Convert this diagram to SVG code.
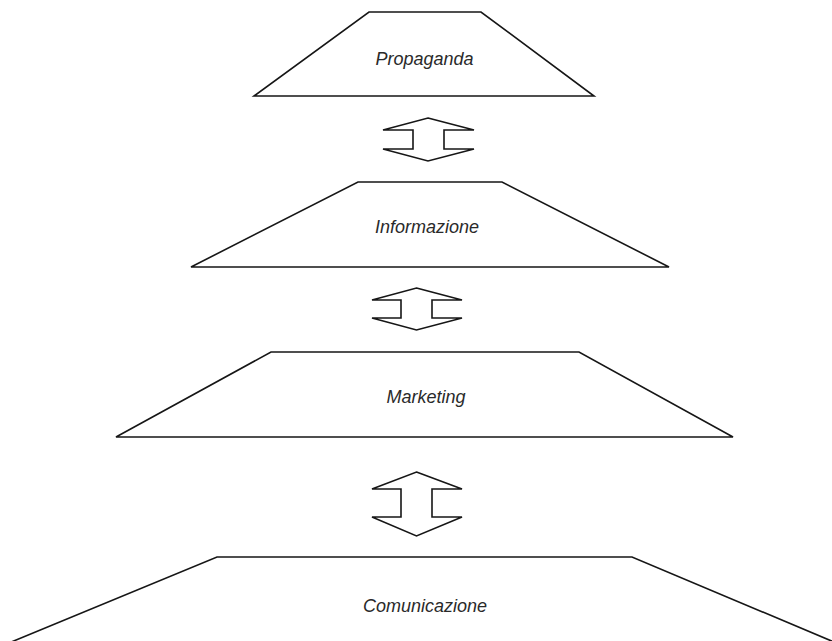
<svg xmlns="http://www.w3.org/2000/svg" width="832" height="641" viewBox="0 0 832 641">
  <style>
    .tier { fill: #ffffff; stroke: #161616; stroke-width: 1.6; stroke-linejoin: miter; }
    .link { fill: #ffffff; stroke: #161616; stroke-width: 1.6; stroke-linejoin: miter; }
    .label { font-family: "Liberation Sans", Arial, sans-serif; font-style: italic; font-size: 18px; fill: #2a2a2a; text-anchor: middle; }
  </style>
  <rect x="0" y="0" width="832" height="641" fill="#ffffff"/>

  <g id="connectors">
    <!-- double-headed block arrows between the tiers -->
    <path class="link" d="M428,118 L474,130 L444,130 L444,149 L474,149 L428,161 L383,149 L413,149 L413,130 L383,130 Z"/>
    <path class="link" d="M416.5,288 L462,300 L432,300 L432,318 L462,318 L416.5,330 L372,318 L401,318 L401,300 L372,300 Z"/>
    <path class="link" d="M416.5,472 L462,489 L432,489 L432,517 L462,517 L416.5,536 L372,517 L401,517 L401,489 L372,489 Z"/>
  </g>

  <g id="propaganda">
    <polygon class="tier" points="369,12 481,12 594,96 254,96"/>
    <text class="label" x="424.5" y="65">Propaganda</text>
  </g>

  <g id="informazione">
    <polygon class="tier" points="358,182 502,182 669,267 191,267"/>
    <text class="label" x="427" y="233">Informazione</text>
  </g>

  <g id="marketing">
    <polygon class="tier" points="271,352 579,352 733,437 116,437"/>
    <text class="label" x="426" y="403">Marketing</text>
  </g>

  <g id="comunicazione">
    <polygon class="tier" points="217,557 632,557 841,645 4,645"/>
    <text class="label" x="425" y="612">Comunicazione</text>
  </g>
</svg>
